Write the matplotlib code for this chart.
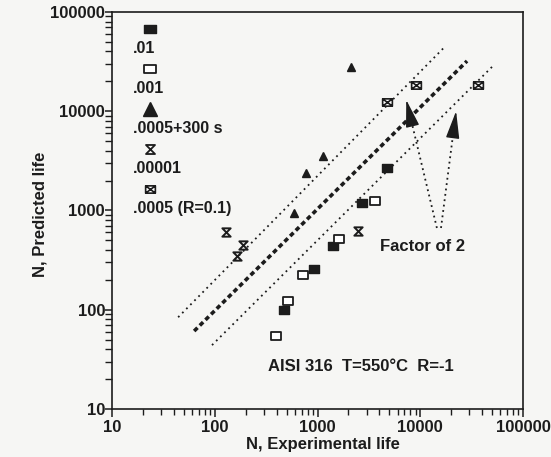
import matplotlib
matplotlib.use("Agg")
import matplotlib.pyplot as plt
import numpy as np
from matplotlib.path import Path
from matplotlib.ticker import FixedLocator, FuncFormatter, LogLocator, NullFormatter

plt.rcParams['font.family'] = ['Liberation Sans', 'DejaVu Sans']
plt.rcParams['font.weight'] = 'bold'
plt.rcParams['axes.labelweight'] = 'bold'

# data (experimental life, predicted life)
rate_01_exp = [4700, 2700, 1400, 920, 470]
rate_01_pred = [2700, 1200, 440, 260, 100]

rate_001_exp = [3600, 1600, 720, 520, 390]
rate_001_pred = [1250, 520, 225, 122, 54]

hold_exp = [590, 770, 1130, 2100]
hold_pred = [940, 2400, 3500, 28000]

rate_00001_exp = [130, 190, 165, 2500]
rate_00001_pred = [600, 450, 350, 620]

r01_exp = [4700, 9100, 36500]
r01_pred = [12400, 18400, 18400]

legend_labels = [".01", ".001", ".0005+300 s", ".00001", ".0005 (R=0.1)"]
tick_values = [10, 100, 1000, 10000, 100000]

# guide lines as drawn on the scan (ends)
center_x = [63, 28500]
center_y = [61, 32000]
upper_x = [44, 17500]
upper_y = [84, 45000]
lower_x = [94, 50000]
lower_y = [44, 28000]

# annotation points for the "Factor of 2" arrows
arrow_tails = [(14500, 666), (15900, 666)]
arrow_heads = [(7300, 13000), (22300, 10000)]

INK = '#1c1c1c'

# custom markers
rect = Path([(-1, -0.75), (1, -0.75), (1, 0.75), (-1, 0.75), (-1, -0.75)],
            [Path.MOVETO, Path.LINETO, Path.LINETO, Path.LINETO, Path.CLOSEPOLY])
hourglass = Path([(-1, 1), (1, 1), (-1, -1), (1, -1), (-1, 1)],
                 [Path.MOVETO, Path.LINETO, Path.LINETO, Path.LINETO, Path.CLOSEPOLY])
boxx = Path([(-1, -0.75), (1, -0.75), (1, 0.75), (-1, 0.75), (-1, -0.75),
             (-1, -0.75), (1, 0.75), (-1, 0.75), (1, -0.75)],
            [Path.MOVETO, Path.LINETO, Path.LINETO, Path.LINETO, Path.CLOSEPOLY,
             Path.MOVETO, Path.LINETO, Path.MOVETO, Path.LINETO])

fig = plt.figure(figsize=(5.51, 4.57), dpi=100, facecolor='#f6f6f4')
ax = fig.add_axes([0.2033, 0.105, 0.746, 0.869])
ax.set_facecolor('#f6f6f4')
ax.set_xscale('log')
ax.set_yscale('log')
ax.set_xlim(10, 100000)
ax.set_ylim(10, 100000)

# 1:1 line and factor of 2 bands
ax.plot(center_x, center_y, color=INK, lw=2.6, dashes=(1.3, 0.9))
ax.plot(upper_x, upper_y, color=INK, lw=1.3, dashes=(1, 2.2))
ax.plot(lower_x, lower_y, color=INK, lw=1.3, dashes=(1, 2.2))

# data
ax.plot(rate_01_exp, rate_01_pred, ls='none', marker=rect, ms=7, color=INK)
ax.plot(rate_001_exp, rate_001_pred, ls='none', marker=rect, ms=7,
        mfc='white', mec=INK, mew=1.3)
ax.plot(hold_exp, hold_pred, ls='none', marker='^', ms=6, color=INK)
ax.plot(rate_00001_exp, rate_00001_pred, ls='none', marker=hourglass, ms=6,
        mfc='none', mec=INK, mew=1.4)
ax.plot(r01_exp, r01_pred, ls='none', marker=boxx, ms=7,
        mfc='white', mec=INK, mew=1.2)

# legend, drawn by hand like the original
leg_styles = [
    dict(marker=rect, ms=8, color=INK),
    dict(marker=rect, ms=8, mfc='white', mec=INK, mew=1.3),
    dict(marker='^', ms=10, color=INK),
    dict(marker=hourglass, ms=6.5, mfc='none', mec=INK, mew=1.3),
    dict(marker=boxx, ms=7, mfc='white', mec=INK, mew=1.2),
]
for i, (lab, st) in enumerate(zip(legend_labels, leg_styles)):
    ym = 0.957 - i * 0.1005
    ax.plot([0.0925], [ym], transform=ax.transAxes, ls='none', clip_on=False, **st)
    ax.text(0.051, ym - 0.049, lab, transform=ax.transAxes, fontsize=11.5,
            color=INK, ha='left', va='center')

# arrows: dotted shaft, solid filled head
for tail, head in zip(arrow_tails, arrow_heads):
    lt = np.log10(tail)
    lh = np.log10(head)
    base = 10 ** (lh + 0.17 * (lt - lh))
    ax.plot([tail[0], base[0]], [tail[1], base[1]], color=INK, lw=1.3,
            dashes=(1, 2))
    ax.annotate('', xy=head, xytext=tuple(base),
                arrowprops=dict(arrowstyle='-|>,head_length=1.7,head_width=0.42',
                                color=INK, lw=1.0, mutation_scale=10,
                                shrinkA=0, shrinkB=0))
ax.text(0.652, 0.408, "Factor of 2", transform=ax.transAxes, fontsize=12,
        color=INK, ha='left', va='center')
ax.text(0.38, 0.108, "AISI 316  T=550°C  R=-1", transform=ax.transAxes,
        fontsize=12, color=INK, ha='left', va='center')

# axes and ticks
for axis in (ax.xaxis, ax.yaxis):
    axis.set_major_locator(FixedLocator(tick_values))
    axis.set_major_formatter(FuncFormatter(lambda v, p: f"{int(round(v))}"))
    axis.set_minor_locator(LogLocator(base=10, subs=range(2, 10)))
    axis.set_minor_formatter(NullFormatter())
ax.tick_params(which='major', direction='out', length=6, width=1.1,
               labelsize=12, colors=INK)
ax.tick_params(which='minor', direction='out', length=4.5, width=1.0, colors=INK)
ax.tick_params(axis='x', which='major', pad=2)
ax.tick_params(axis='y', which='major', pad=0, length=5)
ax.tick_params(axis='y', which='minor', length=5)
for s in ax.spines.values():
    s.set_color(INK)
    s.set_linewidth(1.2)

ax.set_xlabel("N, Experimental life", fontsize=12, color=INK)
ax.set_ylabel("N, Predicted life", fontsize=12, color=INK)
ax.xaxis.set_label_coords(0.513, -0.07)
ax.yaxis.set_label_coords(-0.158, 0.49)

fig.savefig("out.png", dpi=100, facecolor=fig.get_facecolor())
